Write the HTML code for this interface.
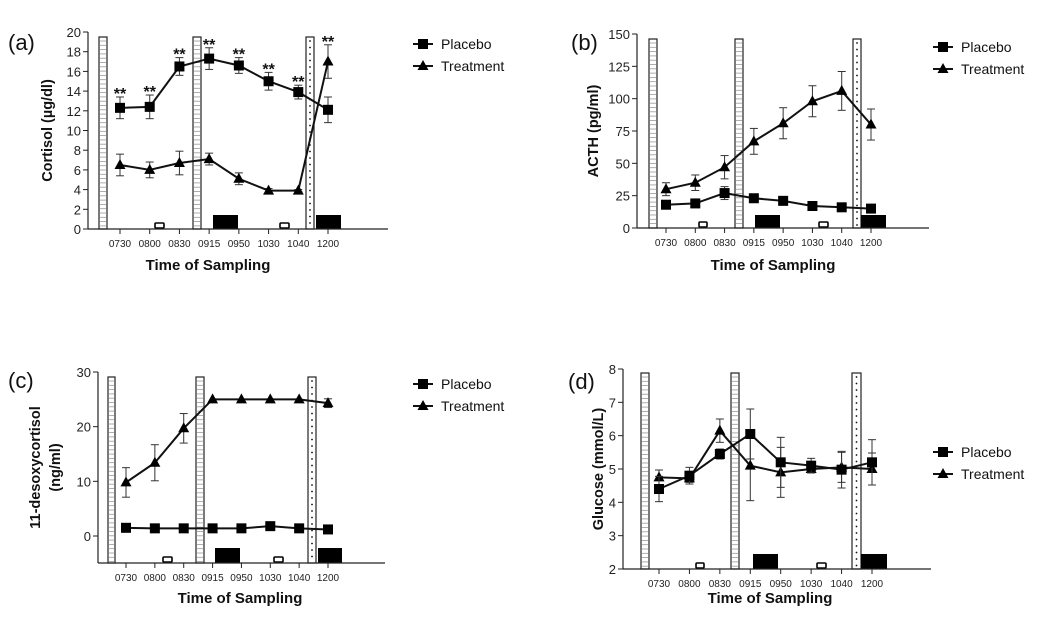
<!DOCTYPE html>
<html><head><meta charset="utf-8"><style>
body{margin:0;background:#fff;}
svg{display:block;font-family:"Liberation Sans",Arial,sans-serif;}
</style></head><body>
<svg id="fig" width="1052" height="624" viewBox="0 0 1052 624"></svg>
<script>
const categories=["0730","0800","0830","0915","0950","1030","1040","1200"];
// (a) Cortisol
const aPlacebo=[12.3,12.4,16.5,17.3,16.6,15.0,13.9,12.1];
const aPlaceboErr=[1.1,1.2,0.9,1.1,0.8,0.9,0.7,1.3];
const aTreat=[6.5,6.0,6.7,7.1,5.1,3.9,3.9,17.0];
const aTreatErr=[1.1,0.8,1.2,0.6,0.6,0.2,0.1,1.7];
const aTicks=[0,2,4,6,8,10,12,14,16,18,20];
// (b) ACTH
const bPlacebo=[18,19,27,23,21,17,16,15];
const bPlaceboErr=[3,3,5,2,2,2,2,1];
const bTreat=[30,35,47,67,81,98,106,80];
const bTreatErr=[5,6,9,10,12,12,15,12];
const bTicks=[0,25,50,75,100,125,150];
// (c) 11-desoxycortisol
const cPlacebo=[1.5,1.4,1.4,1.4,1.4,1.8,1.4,1.2];
const cPlaceboErr=[0.3,0.2,0.2,0.2,0.2,0.3,0.2,0.2];
const cTreat=[9.8,13.4,19.7,25,25,25,25,24.3];
const cTreatErr=[2.7,3.3,2.7,0,0,0,0,0.8];
const cTicks=[0,10,20,30];
// (d) Glucose
const dPlacebo=[4.4,4.8,5.45,6.05,5.2,5.1,4.98,5.2];
const dPlaceboErr=[0.38,0.25,0.15,0.75,0.75,0.22,0.55,0.68];
const dTreat=[4.75,4.72,6.15,5.1,4.9,5.0,5.05,5.0];
const dTreatErr=[0.22,0.12,0.35,1.05,0.75,0.05,0.45,0.48];
const dTicks=[2,3,4,5,6,7,8];

const NS="http://www.w3.org/2000/svg";
const svg=document.getElementById('fig');
function mk(tag,attrs,parent,txt){const e=document.createElementNS(NS,tag);for(const k in attrs)e.setAttribute(k,attrs[k]);if(txt!==undefined)e.textContent=txt;(parent||svg).appendChild(e);return e;}

const panels=[
 {id:'a',letter:'(a)',lx:8,ly:50,ax:88,y0:229,y1:32,vmin:0,vmax:20,ticks:aTicks,axBottom:229,axEnd:388,c0:120,c1:328,
  bars:[[99,107,'h'],[193,201,'h'],[306,314,'d']],barTop:37,black:[[213,238],[316,341]],blackH:14,open:[[155,164],[280,289]],
  P:aPlacebo,PE:aPlaceboErr,T:aTreat,TE:aTreatErr,ylab:['Cortisol (µg/dl)'],ylx:52,xlab:[208,270],leg:[413,44],stars:true},
 {id:'b',letter:'(b)',lx:571,ly:50,ax:637,y0:228,y1:34,vmin:0,vmax:150,ticks:bTicks,axBottom:228,axEnd:929,c0:666,c1:871,
  bars:[[649,657,'h'],[735,743,'h'],[853,861,'d']],barTop:39,black:[[755,780],[861,886]],blackH:13,open:[[699,707],[819,828]],
  P:bPlacebo,PE:bPlaceboErr,T:bTreat,TE:bTreatErr,ylab:['ACTH (pg/ml)'],ylx:598,xlab:[773,270],leg:[933,47]},
 {id:'c',letter:'(c)',lx:8,ly:388,ax:98,y0:536,y1:372,vmin:0,vmax:30,ticks:cTicks,axBottom:563,axEnd:385,c0:126,c1:328,
  bars:[[108,115,'h'],[196,204,'h'],[308,316,'d']],barTop:377,black:[[215,240],[318,342]],blackH:15,open:[[163,172],[274,283]],
  P:cPlacebo,PE:cPlaceboErr,T:cTreat,TE:cTreatErr,ylab:['11-desoxycortisol','(ng/ml)'],ylx:50,xlab:[240,603],leg:[413,384]},
 {id:'d',letter:'(d)',lx:568,ly:389,ax:623,y0:569,y1:369,vmin:2,vmax:8,ticks:dTicks,axBottom:569,axEnd:931,c0:659,c1:872,
  bars:[[641,649,'h'],[731,739,'h'],[852,861,'d']],barTop:373,black:[[753,778],[861,887]],blackH:15,open:[[696,704],[817,826]],
  P:dPlacebo,PE:dPlaceboErr,T:dTreat,TE:dTreatErr,ylab:['Glucose (mmol/L)'],ylx:603,xlab:[770,603],leg:[933,452]}
];

panels.forEach(p=>{
 const g=mk('g',{});
 
 
 const Y=v=>p.y0+(v-p.vmin)/(p.vmax-p.vmin)*(p.y1-p.y0);
 const X=i=>p.c0+i*(p.c1-p.c0)/(categories.length-1);
 const lt=mk('text',{x:p.lx,y:p.ly,'font-size':22,fill:'#111'},g,p.letter);
 
 
 // background bars
 p.bars.forEach((b,bi)=>{
  const bg=mk('g',{},g);
  
  
  mk('rect',{x:b[0],y:p.barTop,width:b[1]-b[0],height:p.axBottom-p.barTop,fill:'#fff',stroke:'#222','stroke-width':1.2},bg);
  if(b[2]==='h'){for(let yy=p.barTop+4;yy<p.axBottom;yy+=4.3)mk('line',{x1:b[0]+1,x2:b[1]-1,y1:yy,y2:yy,stroke:'#999','stroke-width':0.8},bg);}
  else{for(let yy=p.barTop+4;yy<p.axBottom;yy+=6.5)mk('circle',{cx:(b[0]+b[1])/2,cy:yy,r:0.9,fill:'#111'},bg);}
 });
 p.black.forEach(b=>{const r=mk('rect',{x:b[0],y:p.axBottom-p.blackH,width:b[1]-b[0],height:p.blackH,fill:'#000'},g);
  });
 p.open.forEach(b=>{const r=mk('rect',{x:b[0],y:p.axBottom-6,width:b[1]-b[0],height:5,fill:'#fff',stroke:'#000','stroke-width':1.6,rx:1},g);
  });
 // axes
 const ya=mk('line',{x1:p.ax,x2:p.ax,y1:p.y1,y2:p.axBottom,stroke:'#222','stroke-width':1.2},g);
 
 const xa=mk('line',{x1:p.ax,x2:p.axEnd,y1:p.axBottom,y2:p.axBottom,stroke:'#222','stroke-width':1.2},g);
 
 p.ticks.forEach(t=>{
  mk('line',{x1:p.ax-5,x2:p.ax,y1:Y(t),y2:Y(t),stroke:'#222','stroke-width':1},g);
  const tl=mk('text',{x:p.ax-7,y:Y(t)+5,'font-size':13,'text-anchor':'end',fill:'#222'},g,String(t));
  
 });
 categories.forEach((c,i)=>{
  mk('line',{x1:X(i),x2:X(i),y1:p.axBottom,y2:p.axBottom+5,stroke:'#222','stroke-width':1},g);
  const tl=mk('text',{x:X(i),y:p.axBottom+18,'font-size':10,'text-anchor':'middle',fill:'#222'},g,c);
  
 });
 // axis titles
 const cy=(p.y1+p.axBottom)/2;
 p.ylab.forEach((s,k)=>{
  const off=p.ylab.length>1?(k===0?-10:10):0;
  const t=mk('text',{x:0,y:0,'font-size':14.5,'font-weight':'bold','text-anchor':'middle',fill:'#111',transform:`translate(${p.ylx+off},${cy}) rotate(-90)`},g,s);
  
 });
 const xt=mk('text',{x:p.xlab[0],y:p.xlab[1],'font-size':15,'font-weight':'bold','text-anchor':'middle',fill:'#111'},g,'Time of Sampling');
 
 // series
 [[p.T,p.TE,'tri'],[p.P,p.PE,'sq']].forEach(([vals,errs,m])=>{
  const sg=mk('g',{},g);
  
  
  vals.forEach((v,i)=>{if(errs[i]>0){const x=X(i);
   mk('line',{x1:x,x2:x,y1:Y(v-errs[i]),y2:Y(v+errs[i]),stroke:'#333','stroke-width':1},sg);
   [v-errs[i],v+errs[i]].forEach(e=>mk('line',{x1:x-4,x2:x+4,y1:Y(e),y2:Y(e),stroke:'#333','stroke-width':1},sg));}});
  mk('polyline',{points:vals.map((v,i)=>X(i)+','+Y(v)).join(' '),fill:'none',stroke:'#111','stroke-width':2},sg);
  vals.forEach((v,i)=>{const x=X(i),y=Y(v);let e;
   if(m==='sq')e=mk('rect',{x:x-5,y:y-5,width:10,height:10,fill:'#000'},sg);
   else e=mk('polygon',{points:`${x},${y-6} ${x-5.5},${y+4} ${x+5.5},${y+4}`,fill:'#000'},sg);
   
   });
 });
 if(p.stars){
  p.P.forEach((v,i)=>{if(i<7){const s=mk('text',{x:X(i),y:Y(v+p.PE[i])+2,'font-size':16,'font-weight':'bold','text-anchor':'middle',fill:'#111'},g,'**');
   }});
  const s=mk('text',{x:X(7),y:Y(p.T[7]+p.TE[7])+2,'font-size':16,'font-weight':'bold','text-anchor':'middle',fill:'#111'},g,'**');
  
 }
 // legend
 const lg=mk('g',{},g);
 
 [['Placebo','sq',0],['Treatment','tri',22]].forEach(([n,m,dy])=>{
  const ly=p.leg[1]+dy,lx=p.leg[0];
  const eg=mk('g',{},lg);
  
  mk('line',{x1:lx,x2:lx+20,y1:ly,y2:ly,stroke:'#111','stroke-width':2},eg);
  if(m==='sq')mk('rect',{x:lx+5,y:ly-5,width:10,height:10,fill:'#000'},eg);
  else mk('polygon',{points:`${lx+10},${ly-6} ${lx+4.5},${ly+4} ${lx+15.5},${ly+4}`,fill:'#000'},eg);
  mk('text',{x:lx+28,y:ly+5,'font-size':14,fill:'#111'},eg,n);
 });
});
</script>
</body></html>
